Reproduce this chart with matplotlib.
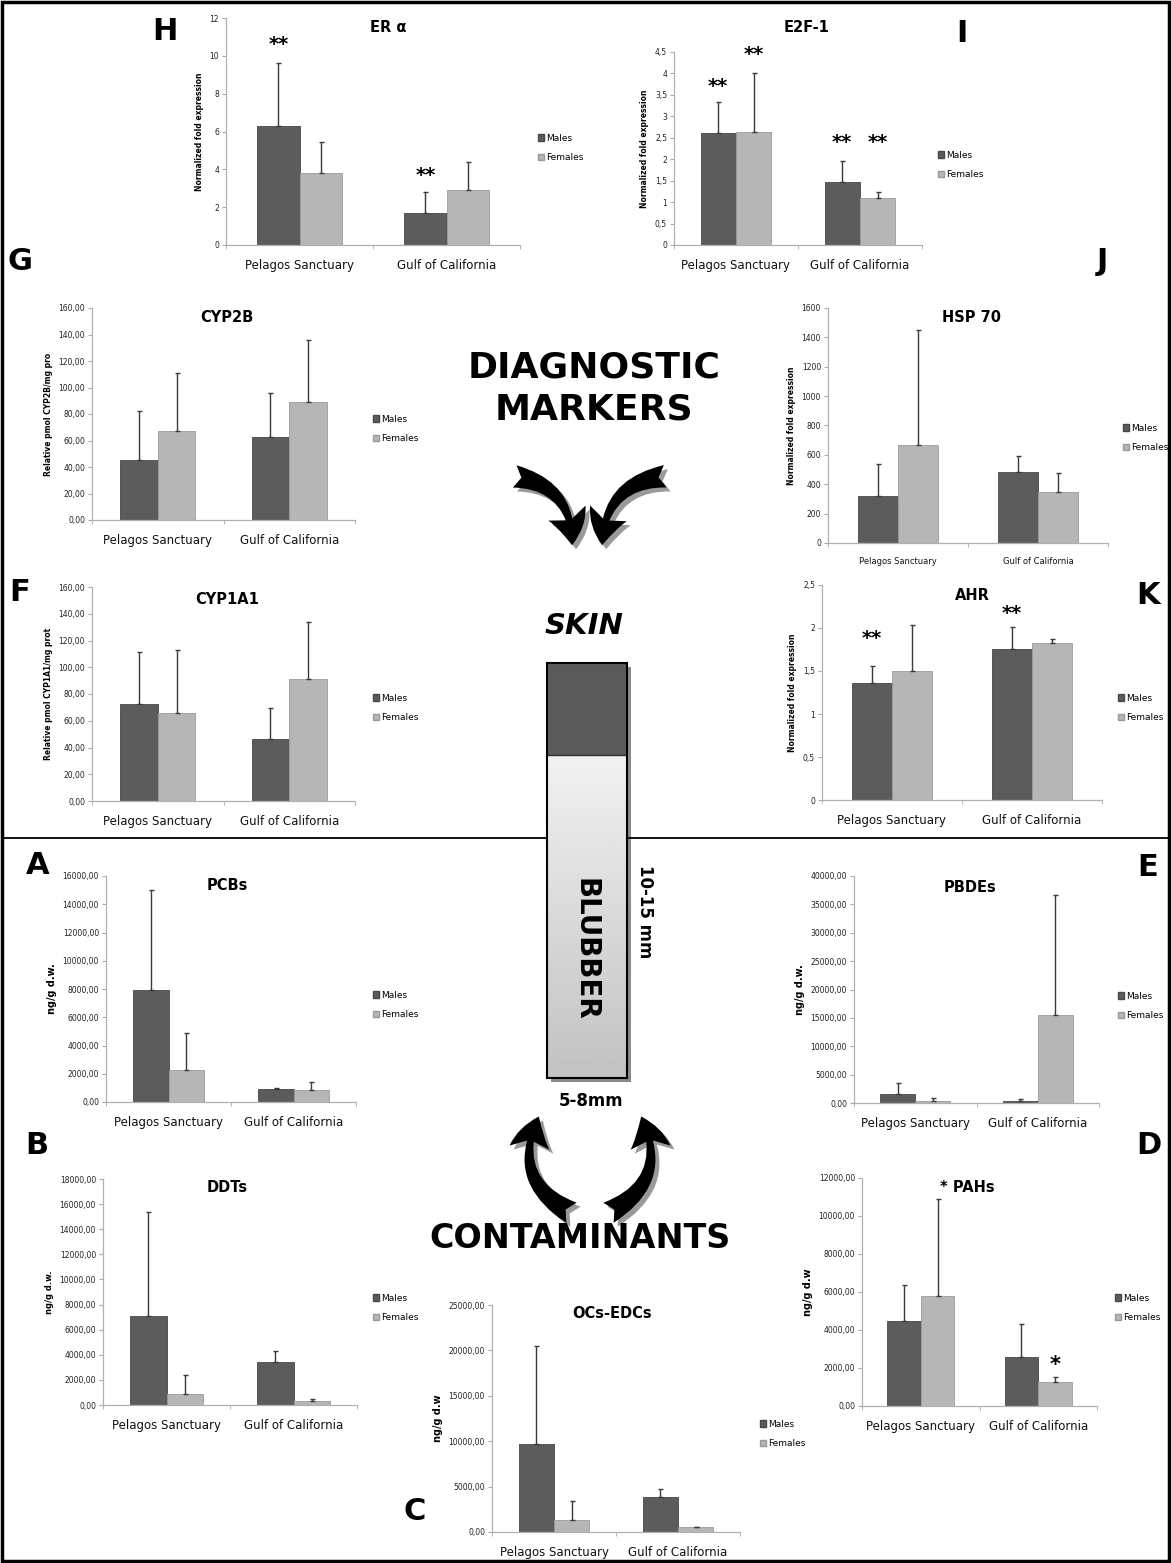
import numpy as np
import matplotlib
matplotlib.use("Agg")
import matplotlib.pyplot as plt
from matplotlib.patches import Patch, Rectangle, FancyArrowPatch
from matplotlib.lines import Line2D

W, H = 1171, 1563
fig = plt.figure(figsize=(W / 100, H / 100), dpi=100)
plt.rcParams['font.family'] = ['DejaVu Sans']

def fx(x):
    return x / W

def fy(y):
    return 1 - y / H

cats = ["Pelagos Sanctuary", "Gulf of California"]
series = ["Males", "Females"]

# means and upper SD for each marker (Pelagos, Gulf)
era_m, era_m_sd = [6.3, 1.7], [3.3, 1.1]
era_f, era_f_sd = [3.8, 2.9], [1.65, 1.5]
e2f_m, e2f_m_sd = [2.6, 1.48], [0.73, 0.47]
e2f_f, e2f_f_sd = [2.63, 1.1], [1.39, 0.13]
cyp2b_m, cyp2b_m_sd = [45.5, 62.5], [36.5, 33.5]
cyp2b_f, cyp2b_f_sd = [67.5, 89.0], [43.5, 46.5]
hsp_m, hsp_m_sd = [320, 485], [220, 110]
hsp_f, hsp_f_sd = [670, 350], [780, 125]
cyp1a_m, cyp1a_m_sd = [72.5, 46.0], [39.0, 23.5]
cyp1a_f, cyp1a_f_sd = [65.5, 91.0], [47.5, 43.0]
ahr_m, ahr_m_sd = [1.36, 1.75], [0.2, 0.26]
ahr_f, ahr_f_sd = [1.5, 1.82], [0.53, 0.05]
pcb_m, pcb_m_sd = [7900, 950], [7100, 70]
pcb_f, pcb_f_sd = [2250, 850], [2600, 600]
pbde_m, pbde_m_sd = [1500, 400], [2000, 300]
pbde_f, pbde_f_sd = [400, 15500], [500, 21200]
ddt_m, ddt_m_sd = [7100, 3450], [8250, 850]
ddt_f, ddt_f_sd = [850, 300], [1500, 150]
pah_m, pah_m_sd = [4500, 2580], [1850, 1720]
pah_f, pah_f_sd = [5800, 1250], [5100, 280]
oc_m, oc_m_sd = [9700, 3900], [10800, 800]
oc_f, oc_f_sd = [1300, 600], [2100, 0]

MALE = '#5c5c5c'
FEMALE = '#b6b6b6'
bw = 0.286


def fmt2(v):
    return f"{v:.2f}".replace('.', ',')

def fmtg(v):
    return f"{v:g}".replace('.', ',')


def panel(box, m, msd, f, fsd, ymax, ystep, fmt, title, title_xy, ylabel, leg_xy,
          tick_fs=5.5, cat_fs=8.5, lab_fs=5.5, stars=()):
    l, t, r, b = box
    ax = fig.add_axes([fx(l), fy(b), (r - l) / W, (b - t) / H])
    xc = np.array([0.5, 1.5])
    ax.bar(xc - bw / 2, m, width=bw, color=MALE, edgecolor='#484848', linewidth=0.6)
    ax.bar(xc + bw / 2, f, width=bw, color=FEMALE, edgecolor='#9a9a9a', linewidth=0.6)
    ax.errorbar(xc - bw / 2, m, yerr=[np.zeros(2), msd], fmt='none', ecolor='#3a3a3a',
                elinewidth=1, capsize=1.8, capthick=1)
    ax.errorbar(xc + bw / 2, f, yerr=[np.zeros(2), fsd], fmt='none', ecolor='#3a3a3a',
                elinewidth=1, capsize=1.8, capthick=1)
    ax.set_xlim(0, 2)
    ax.set_ylim(0, ymax)
    yt = np.arange(0, ymax + ystep / 2, ystep)
    ax.set_yticks(yt)
    ax.set_yticklabels([fmt(v) for v in yt], fontsize=tick_fs, color='#222222')
    ax.set_xticks(xc)
    ax.set_xticklabels(cats, fontsize=cat_fs, color='#111111')
    ax.set_xticks([0, 1, 2], minor=True)
    ax.tick_params(axis='x', which='major', length=0, pad=10)
    ax.tick_params(axis='x', which='minor', length=3, color='#aaaaaa', direction='out')
    ax.tick_params(axis='y', length=3, color='#aaaaaa', direction='out', pad=2)
    for s in ['top', 'right']:
        ax.spines[s].set_visible(False)
    for s in ['left', 'bottom']:
        ax.spines[s].set_color('#b0b0b0')
        ax.spines[s].set_linewidth(0.9)
    ax.set_ylabel(ylabel, fontsize=lab_fs, fontweight='bold', labelpad=4)
    fig.text(fx(title_xy[0]), fy(title_xy[1]), title, fontsize=10.5, fontweight='bold',
             ha='center', va='center')
    handles = [Patch(facecolor=MALE, edgecolor='#484848'),
               Patch(facecolor=FEMALE, edgecolor='#9a9a9a')]
    ax.legend(handles, series, loc='center left', frameon=False, fontsize=6.5,
              bbox_to_anchor=(fx(leg_xy[0]), fy(leg_xy[1])), bbox_transform=fig.transFigure,
              handlelength=0.7, handleheight=0.7, handletextpad=0.3, labelspacing=1.2,
              borderpad=0)
    for sx, sy in stars:
        ax.text(sx, sy, "**", fontsize=14, fontweight='bold', ha='center', va='center',
                clip_on=False)
    return ax


# top marker panels
panel((226, 18, 520, 245), era_m, era_m_sd, era_f, era_f_sd, 12, 2, fmtg, "ER α", (388, 28),
      "Normalized fold expression", (533, 148), stars=[(0.5 - bw / 2, 10.6), (1.5 - bw / 2, 3.7)])
panel((674, 52, 922, 245), e2f_m, e2f_m_sd, e2f_f, e2f_f_sd, 4.5, 0.5, fmtg, "E2F-1", (807, 28),
      "Normalized fold expression", (933, 165),
      stars=[(0.5 - bw / 2, 3.7), (0.5 + bw / 2, 4.45), (1.5 - bw / 2, 2.4), (1.5 + bw / 2, 2.4)])
panel((92, 308, 355, 520), cyp2b_m, cyp2b_m_sd, cyp2b_f, cyp2b_f_sd, 160, 20, fmt2, "CYP2B", (227, 318),
      "Relative pmol CYP2B/mg pro", (368, 429))
panel((828, 308, 1108, 543), hsp_m, hsp_m_sd, hsp_f, hsp_f_sd, 1600, 200, fmtg, "HSP 70", (972, 318),
      "Normalized fold expression", (1118, 438), cat_fs=6)
panel((92, 587, 355, 801), cyp1a_m, cyp1a_m_sd, cyp1a_f, cyp1a_f_sd, 160, 20, fmt2, "CYP1A1", (227, 600),
      "Relative pmol CYP1A1/mg prot", (368, 708))
panel((822, 585, 1102, 800), ahr_m, ahr_m_sd, ahr_f, ahr_f_sd, 2.5, 0.5, fmtg, "AHR", (972, 595),
      "Normalized fold expression", (1113, 708),
      stars=[(0.5 - bw / 2, 1.88), (1.5 - bw / 2, 2.17)])

# contaminant panels
panel((106, 876, 356, 1102), pcb_m, pcb_m_sd, pcb_f, pcb_f_sd, 16000, 2000, fmt2, "PCBs", (227, 886),
      "ng/g d.w.", (368, 1005), lab_fs=7)
panel((854, 876, 1099, 1103), pbde_m, pbde_m_sd, pbde_f, pbde_f_sd, 40000, 5000, fmt2, "PBDEs", (970, 887),
      "ng/g d.w.", (1113, 1006), lab_fs=7)
panel((103, 1179, 357, 1405), ddt_m, ddt_m_sd, ddt_f, ddt_f_sd, 18000, 2000, fmt2, "DDTs", (227, 1188),
      "ng/g d.w.", (368, 1308), lab_fs=6)
axd = panel((862, 1178, 1097, 1406), pah_m, pah_m_sd, pah_f, pah_f_sd, 12000, 2000, fmt2, "* PAHs", (967, 1187),
            "ng/g d.w", (1110, 1308), lab_fs=7)
axd.text(1.5 + bw / 2, 2150, "*", fontsize=15, fontweight='bold', ha='center', va='center')
panel((492, 1305, 740, 1532), oc_m, oc_m_sd, oc_f, oc_f_sd, 25000, 5000, fmt2, "OCs-EDCs", (612, 1314),
      "ng/g d.w", (755, 1434), lab_fs=7)

# panel letters
letters = ["H", "I", "J", "G", "F", "K", "A", "E", "B", "D", "C"]
letter_xy = [(165, 32), (962, 34), (1102, 261), (20, 262), (20, 592), (1148, 595),
             (38, 866), (1148, 868), (37, 1146), (1149, 1146), (415, 1512)]
for s, (x, y) in zip(letters, letter_xy):
    fig.text(fx(x), fy(y), s, fontsize=22, fontweight='bold', ha='center', va='center')

# centre sketch
fig.text(fx(594), fy(368), "DIAGNOSTIC", fontsize=26, fontweight='bold', ha='center', va='center')
fig.text(fx(594), fy(410), "MARKERS", fontsize=26, fontweight='bold', ha='center', va='center')
fig.text(fx(584), fy(626), "SKIN", fontsize=21, fontweight='bold', fontstyle='italic',
         ha='center', va='center')
fig.text(fx(591), fy(1101), "5-8mm", fontsize=12, fontweight='bold', ha='center', va='center')
fig.text(fx(645), fy(912), "10-15 mm", fontsize=12, fontweight='bold', rotation=-90,
         ha='center', va='center')
fig.text(fx(580), fy(1238), "CONTAMINANTS", fontsize=24, fontweight='bold', ha='center', va='center')


def curved_arrow(p0, p1, rad):
    for off, col in [((4, 4), '#9a9a9a'), ((0, 0), 'black')]:
        a = FancyArrowPatch((fx(p0[0] + off[0]), fy(p0[1] + off[1])),
                            (fx(p1[0] + off[0]), fy(p1[1] + off[1])),
                            transform=fig.transFigure, connectionstyle=f"arc3,rad={rad}",
                            arrowstyle="fancy,head_width=1.6,head_length=1.3,tail_width=0.9",
                            mutation_scale=18, color=col, lw=0)
        fig.add_artist(a)


curved_arrow((512, 476), (572, 548), -0.45)
curved_arrow((668, 476), (602, 548), 0.45)
curved_arrow((574, 1214), (540, 1114), -0.5)
curved_arrow((606, 1214), (640, 1114), 0.5)

# divider line, broken by the blubber core
fig.add_artist(Line2D([fx(2), fx(547)], [fy(838), fy(838)], color='black', lw=1.3))
fig.add_artist(Line2D([fx(627), fx(1169)], [fy(838), fy(838)], color='black', lw=1.3))

# shadow and core
fig.add_artist(Rectangle((fx(551), fy(1082)), 80 / W, 415 / H, color='#8a8a8a', lw=0, zorder=-1))
bax = fig.add_axes([fx(547), fy(1078), 80 / W, 415 / H])
bax.set_zorder(5)
grad = np.linspace(1.0, 0.76, 256).reshape(-1, 1)
bax.imshow(grad, cmap='gray', vmin=0, vmax=1, aspect='auto', extent=(0, 1, 0, 1))
bax.add_patch(Rectangle((0, 0.778), 1, 0.222, color='#5a5a5a', lw=0))
bax.axhline(0.778, color='#333333', lw=1)
bax.set_xlim(0, 1)
bax.set_ylim(0, 1)
bax.set_xticks([])
bax.set_yticks([])
for s in bax.spines.values():
    s.set_linewidth(1.5)
    s.set_color('black')
bax.text(0.48, 0.31, "BLUBBER", fontsize=20, fontweight='bold', rotation=-90,
         ha='center', va='center', transform=bax.transAxes)

# outer frame
fig.add_artist(Rectangle((0.002, 0.0015), 0.996, 0.997, fill=False, lw=2.5, color='black',
                         transform=fig.transFigure))

fig.savefig("out.png", dpi=100, facecolor='white')
